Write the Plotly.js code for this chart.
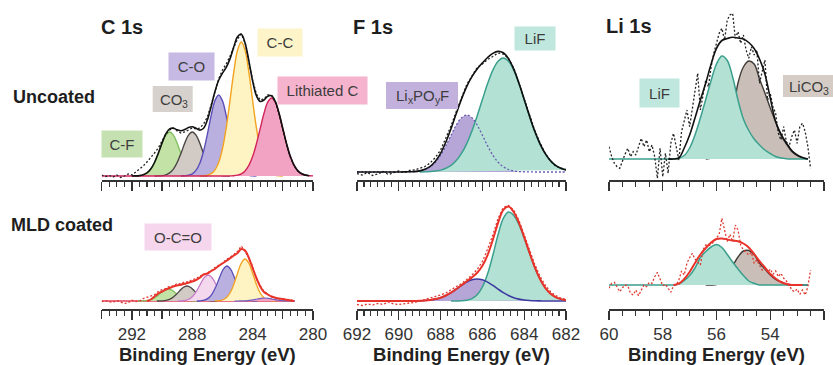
<!DOCTYPE html>
<html><head><meta charset="utf-8">
<script src="https://cdn.plot.ly/plotly-3.0.1.min.js"></script>
<style>html,body{margin:0;padding:0;background:#fff}#chart{width:833px;height:365px}</style>
</head><body><div id="chart"></div>
<script>
// ================= DATA =================
// ---- C 1s : binding energy grid (eV) ----
const c1sEnergy = [294,293.75,293.5,293.25,293,292.75,292.5,292.25,292,291.75,291.5,291.25,291,290.75,290.5,290.25,290,289.75,289.5,289.25,289,288.75,288.5,288.25,288,287.75,287.5,287.25,287,286.75,286.5,286.25,286,285.75,285.5,285.25,285,284.75,284.5,284.25,284,283.75,283.5,283.25,283,282.75,282.5,282.25,282,281.75,281.5,281.25,281,280.75,280.5,280.25,280];

// C 1s uncoated
const c1sUncRaw = [5,3.5,4.5,3,5,2.5,4,6,5,8,11,14,18,22,27,32,39,46,50,52,49,47,48,50,52,51,52,56,63,75,88,101,110,116,124,133,141,146,137,118,100,86,80,81,85,85,78,66,50,35,23,14,9,6,5];
const c1sUncEnv = [4.0,4.1,4.4,5.2,7.1,10.9,17.5,26.7,37.1,46.1,51.1,51.8,50.2,49.2,50.4,52.5,53.3,51.7,49.9,51.7,59.9,73.5,88.2,99.7,106.8,112.6,121.1,133.0,143.3,145.8,137.0,119.2,99.0,84.3,78.5,80.0,83.7,84.3,78.6,66.7,51.3,36.1,23.4,14.6,9.1,6.2,4.9,4.3];
const c1sUncCF  = [4.0,4.1,4.4,5.2,7.1,10.9,17.5,26.6,36.7,44.9,48.0,44.9,36.7,26.6,17.5,10.9,7.1,5.2,4.4,4.1,4.0];
const c1sUncCO3 = [4.0,4.1,4.4,5.2,7.1,10.9,17.5,26.6,36.7,44.9,48.0,44.9,36.7,26.6,17.5,10.9,7.1,5.2,4.4,4.1,4.0];
const c1sUncCO  = [4.0,4.2,4.7,6.2,9.6,16.7,28.8,45.6,64.3,79.2,85.0,79.2,64.3,45.6,28.8,16.7,9.6,6.2,4.7,4.2,4.0];
const c1sUncCC  = [4.0,4.2,4.8,6.3,9.9,17.5,31.2,52.2,79.4,107.9,129.7,138.0,129.7,107.9,79.4,52.2,31.2,17.5,9.9,6.3,4.8,4.2,4.0];
const c1sUncLiC = [4,4,4,4,4,4,4,4,4,4,4,4,4,4,4,4,4,4,4,4,4,4,4,4,4,4,4,4,4,4,4,4,4,4.0,4.1,4.3,4.9,6.2,9.1,14.6,23.4,36.1,51.3,66.5,77.8,82.0,77.8,66.5,51.3,36.1,23.4,14.6,9.1,6.2,4.9,4.3,4.1];

// C 1s MLD coated
const c1sMldRaw = [7.5,8.3,7.2,6.8,8.4,7.0,5.5,6.2,8.8,7.5,7.8,10.5,11.5,12.8,14.2,17.5,19.5,20.3,22.8,23.0,25.5,25.0,27.3,27.0,29.5,30.2,33.0,34.2,36.5,38.0,41.5,44.0,46.0,49.5,51.5,54.5,57.5,63.0,57.0,51.5,42.5,30.0,23.5,17.5,15.0,12.0,11.8,10.2,10.5,9.0,9.5,8.2];
const c1sMldEnv = [8,9.5,12.5,15.5,17.5,19.5,21,22.5,23.5,24.3,25.3,26.3,27.5,29,31.2,34.5,35.5,38,40,43,45.5,48,50.7,53.5,56,60,58.5,51,41,31,22.5,17,14.5,12.5,11.3,10.5,10,9.3,8.6,8];
const c1sMldBaseE = [294,281.2];
const c1sMldBase  = [8,8];
const c1sMldCF_E  = [291.6,291.35,291.1,290.85,290.6,290.35,290.1,289.85,289.6,289.35,289.1,288.85,288.6,288.35,288.1,287.85,287.6];
const c1sMldCF    = [8.0,8.1,8.3,8.9,10.3,12.7,15.9,18.8,20.0,18.8,15.9,12.7,10.3,8.9,8.3,8.1,8.0];
const c1sMldCO3_E = [290.35,290.1,289.85,289.6,289.35,289.1,288.85,288.6,288.35,288.1,287.85,287.6,287.35,287.1,286.85,286.6,286.35];
const c1sMldCO3   = [8.0,8.1,8.4,9.1,10.9,13.9,17.9,21.5,23.0,21.5,17.9,13.9,10.9,9.1,8.4,8.1,8.0];
const c1sMldOCO_E = [288.95,288.7,288.45,288.2,287.95,287.7,287.45,287.2,286.95,286.7,286.45,286.2,285.95,285.7,285.45,285.2,284.95];
const c1sMldOCO   = [8.0,8.2,8.6,10.0,13.0,18.3,25.2,31.5,34.0,31.5,25.2,18.3,13.0,10.0,8.6,8.2,8.0];
const c1sMldCO_E  = [287.7,287.45,287.2,286.95,286.7,286.45,286.2,285.95,285.7,285.45,285.2,284.95,284.7,284.45,284.2,283.95,283.7];
const c1sMldCO    = [8.0,8.2,8.9,10.6,14.7,21.8,31.2,39.6,43.0,39.6,31.2,21.8,14.7,10.6,8.9,8.2,8.0];
const c1sMldCC_E  = [286.5,286.25,286,285.75,285.5,285.25,285,284.75,284.5,284.25,284,283.75,283.5,283.25,283,282.75,282.5];
const c1sMldCC    = [8.1,8.3,9.0,11.2,16.0,24.6,35.8,45.9,50.0,45.9,35.8,24.6,16.0,11.2,9.0,8.3,8.1];
const c1sMldLiC_E = [285.2,284.95,284.7,284.45,284.2,283.95,283.7,283.45,283.2,282.95,282.7,282.45,282.2,281.95,281.7,281.45,281.2];
const c1sMldLiC   = [8.0,8.0,8.1,8.2,8.6,9.2,10.0,10.7,11.0,10.7,10.0,9.2,8.6,8.2,8.1,8.0,8.0];

// ---- F 1s ----
const f1sEnergy = [692,691.75,691.5,691.25,691,690.75,690.5,690.25,690,689.75,689.5,689.25,689,688.75,688.5,688.25,688,687.75,687.5,687.25,687,686.75,686.5,686.25,686,685.75,685.5,685.25,685,684.75,684.5,684.25,684,683.75,683.5,683.25,683,682.75,682.5,682.25,682];
const f1sUncRaw   = [6.5,5.0,7.5,4.5,6.0,8.5,5.5,7.0,9.0,7.5,9.5,10.0,12.0,13.5,17.0,22.5,30.0,41.5,54.0,68.5,83.0,95.5,104.0,112.5,116.0,120.5,123.5,127.0,126.0,121.5,112.0,97.5,81.0,65.5,50.0,37.5,27.0,19.0,14.0,12.0,10.5];
const f1sUncEnv   = [8,8,8,8,8,8,8,8,8,8.1,8.2,8.4,9.1,10.7,13.6,18.7,26.7,37.8,51.4,66.4,80.9,93.4,103.3,111.0,117.1,122.5,126.6,128.6,127.2,121.3,110.9,96.8,80.6,64.2,49.0,36.4,26.6,19.5,14.7,11.7,9.9];
const f1sUncLixPOyF = [8,8,8,8,8,8,8,8,8,8.1,8.2,8.4,9.1,10.5,13.2,17.8,24.8,34.1,44.7,54.9,62.3,65.0,62.3,54.9,44.7,34.1,24.8,17.8,13.2,10.5,9.1,8.4,8.2,8.1,8,8,8,8,8,8,8];
const f1sUncLiF   = [8.0,8.2,8.4,8.9,9.9,11.7,14.7,19.5,26.6,36.4,49.0,64.1,80.4,96.4,109.8,118.8,122.0,118.8,109.8,96.4,80.4,64.1,49.0,36.4,26.6,19.5,14.7,11.7,9.9];
const f1sMldRaw   = [4.5,3.5,5.0,4.0,5.5,4.5,7.0,5.0,4.5,5.5,6.0,6.5,8.0,9.5,10.5,12.5,14.0,16.0,19.0,22.5,25.5,29.5,34.0,39.5,47.5,60.0,74.0,90.5,101.5,103.5,99.0,88.5,74.0,59.5,45.0,33.0,24.0,17.5,13.5,11.0,9.5];
const f1sMldEnv   = [8,8,8,8,8,8,8,8,8,8,8,8.1,8.2,8.5,9.0,9.9,11.3,13.5,16.4,20.0,23.8,27.7,31.6,36.2,43.2,54.1,69.3,86.1,99.1,102.5,96.9,86.2,71.9,56.6,42.1,30.3,21.4,15.5,11.9,9.9,8.8];
const f1sMldLixPOyF = [8,8,8,8,8,8,8,8,8,8,8,8.1,8.2,8.5,9.0,9.9,11.3,13.5,16.4,19.9,23.6,26.9,29.2,30.0,29.2,26.9,23.6,19.9,16.4,13.5,11.3,9.9,9.0,8.5,8.2,8.1,8,8,8,8,8];
const f1sMldLiF   = [8.0,8.1,8.2,8.8,10.4,14.2,22.0,35.2,53.7,74.2,90.7,97.0,93.6,84.3,70.9,56.1,41.9,30.2,21.4,15.5,11.9,9.9,8.8];

// ---- Li 1s ----
const liEnergy = [60,59.8,59.6,59.4,59.2,59,58.8,58.6,58.4,58.2,58,57.8,57.6,57.4,57.2,57,56.8,56.6,56.4,56.2,56,55.8,55.6,55.4,55.2,55,54.8,54.6,54.4,54.2,54,53.8,53.6,53.4,53.2,53,52.8,52.6];
const liEnergyFine = [60,59.9,59.8,59.7,59.6,59.5,59.4,59.3,59.2,59.1,59,58.9,58.8,58.7,58.6,58.5,58.4,58.3,58.2,58.1,58,57.9,57.8,57.7,57.6,57.5,57.4,57.3,57.2,57.1,57,56.9,56.8,56.7,56.6,56.5,56.4,56.3,56.2,56.1,56,55.9,55.8,55.7,55.6,55.5,55.4,55.3,55.2,55.1,55,54.9,54.8,54.7,54.6,54.5,54.4,54.3,54.2,54.1,54,53.9,53.8,53.7,53.6,53.5,53.4,53.3,53.2,53.1,53,52.9,52.8,52.7,52.6,52.5];
const liUncRaw = [33.3,23.3,16.7,13.3,11.7,20,26,31.7,23.3,28.3,25,33.3,41.7,33.3,40,28.3,35,23.3,1.7,31.7,3.3,26.7,6.7,36.7,46.7,33.3,20,48.3,60,70,53.3,70,86.7,106.7,70,83.3,100,93.3,113.3,126.7,136.7,146.7,151.7,140,160,165,166.7,141.7,148.3,136.7,145,130,121.7,133.3,125,130,96.7,108.3,120,80,86.7,73.3,66.7,46.7,40,53.3,38.3,33.3,43.3,50,36.7,53.3,56.7,48.3,33.3,11.7];
const liUncEnv = [21,21,22,32,45,62,80,97,116,131.7,139.5,141.5,142.7,142,141,137.5,131.5,121,106,82,58.5,46,37,29.5,25,22.5,21];
const liUncLiF = [21,21,21,21,21,21,21,21,21,21,21,21,21.2,21.8,24.5,32,45,62,80.5,99.5,116,124,119.5,103,80,61,49.5,41,35,30,26.5,23.5,22,21.3,21,21,21,21];
const liUncLiCO3 = [21,22,25,32,45,66,97,113,119,116,101,87,72,58,44.5,36,28.5,24.5,22,21];
const liMldRaw = [20.7,25.7,26.7,22.3,17.3,21.3,24,23.3,15.7,14,19,13.3,18,24,22.3,26.7,25.7,32.3,36.7,29,23.3,24.7,20.7,16.7,23.3,24,29,38,34,45.7,51.3,55.7,50,47.3,44,59,64,63.3,64.7,67.3,70.7,74.7,90.7,77.3,67.3,74.7,67.3,84,79,64,59,56.7,54,56.7,45.7,49,43.3,39,41.3,36.7,40,34.7,38,32.3,35.7,30.7,28,24.7,19,17.3,20,14.7,19,14,22.3,39];
const liMldEnv = [24,25.3,30,37,46,54.5,61,66.5,70,70.5,69.5,68.5,67.7,65.5,61.5,55,48,41.5,35,30.5,27,25,24,24,24];
const liMldLiF = [24,24,24,24,24,24,24,24,24,24,24,24,24,25,28.5,33.5,41,51.5,57.5,62,64.5,61.5,54.5,47,40,33.5,28,25.7,24.1,24,24,24,24,24,24,24,24,24];
const liMldLiCO3 = [24,24,24.5,27,33,43,52,58,58.5,54.5,46,40,34,29.5,27,24.7,24,24,24,24];

// Tick labels / text
const panelTitles = ['C 1s','F 1s','Li 1s'];
const rowLabels = ['Uncoated','MLD coated'];
const xTitle = 'Binding Energy (eV)';

// ================= DRAWING =================
const FONT = 'Liberation Sans, Arial, Helvetica, sans-serif';
const W = 833, H = 365;
const fx = p => p / W, fy = p => 1 - p / H;
const traces = [];
const AX = [null, ['x','y'], ['x2','y2'], ['x3','y3'], ['x4','y4'], ['x5','y5'], ['x6','y6']];

function area(a, x, y, fill, line, lw, dash) {
  traces.push({type:'scatter', mode:'lines', x:x, y:y, xaxis:AX[a][0], yaxis:AX[a][1],
    fill:'toself', fillcolor:fill,
    line:{color:line, width:lw, shape:'spline', smoothing:1, dash:dash || 'solid'},
    hoverinfo:'skip', showlegend:false});
}
function curve(a, x, y, color, lw, dash, shape) {
  traces.push({type:'scatter', mode:'lines', x:x, y:y, xaxis:AX[a][0], yaxis:AX[a][1],
    line:{color:color, width:lw, dash:dash || 'solid', shape:shape || 'spline', smoothing:1},
    hoverinfo:'skip', showlegend:false});
}

const COL = {
  cf:['#c3e2a6','#82c061'], co3:['#d2cbc5','#4a4545'], co:['#b9b0e0','#5a4fb8'],
  cc:['#fef3c2','#f2a322'], lic:['#f2a3c3','#d3245a'], oco:['#f4d8ee','#c37ac7'],
  lif:['#b3e2d5','#3b9f8d'], lipo:['#b6a6d8','#6a5cae'], lico3:['#c9bfb8','#403a36']
};
const DOT = '2px,2px';

// Panel 1: C 1s uncoated
area(1, c1sEnergy.slice(8,29),  c1sUncCF,  COL.cf[0],  COL.cf[1], 1.4);
area(1, c1sEnergy.slice(14,35), c1sUncCO3, COL.co3[0], COL.co3[1], 1.4);
area(1, c1sEnergy.slice(21,42), c1sUncCO,  COL.co[0],  COL.co[1], 1.4);
area(1, c1sEnergy.slice(26,49), c1sUncCC,  COL.cc[0],  COL.cc[1], 1.4);
area(1, c1sEnergy,              c1sUncLiC, COL.lic[0], COL.lic[1], 1.4);
curve(1, c1sEnergy.slice(0,55), c1sUncRaw, '#222', 1.3, DOT, 'linear');
curve(1, c1sEnergy.slice(8,56), c1sUncEnv, '#111', 1.6);

// Panel 2: F 1s uncoated
area(2, f1sEnergy, f1sUncLixPOyF, COL.lipo[0], COL.lipo[0], 0);
area(2, f1sEnergy.slice(12), f1sUncLiF, COL.lif[0], COL.lif[1], 1.5);
curve(2, f1sEnergy, f1sUncLixPOyF, COL.lipo[1], 1.3, DOT);
curve(2, f1sEnergy, f1sUncRaw, '#222', 1.3, DOT, 'linear');
curve(2, f1sEnergy, f1sUncEnv, '#111', 1.6);

// Panel 3: Li 1s uncoated
area(3, liEnergy.slice(18), liUncLiCO3, COL.lico3[0], COL.lico3[1], 1.4);
area(3, liEnergy, liUncLiF, COL.lif[0], COL.lif[1], 1.5);
curve(3, liEnergyFine, liUncRaw, '#222', 1.3, DOT, 'linear');
curve(3, liEnergy.slice(11), liUncEnv, '#111', 1.6);

// Panel 4: C 1s MLD coated
curve(4, c1sMldBaseE, c1sMldBase, '#e0405a', 1.6, 'solid', 'linear');
area(4, c1sMldCF_E,  c1sMldCF,  COL.cf[0],  COL.cf[1], 1.3);
area(4, c1sMldCO3_E, c1sMldCO3, COL.co3[0], COL.co3[1], 1.3);
area(4, c1sMldOCO_E, c1sMldOCO, COL.oco[0], COL.oco[1], 1.3);
area(4, c1sMldCO_E,  c1sMldCO,  COL.co[0],  COL.co[1], 1.3);
area(4, c1sMldCC_E,  c1sMldCC,  COL.cc[0],  COL.cc[1], 1.3);
area(4, c1sMldLiC_E, c1sMldLiC, COL.lic[0], '#7060c0', 1.2);
curve(4, c1sEnergy.slice(0,52), c1sMldRaw, '#e0392f', 1.3, DOT, 'linear');
curve(4, c1sEnergy.slice(12,52), c1sMldEnv, '#e8332a', 2);

// Panel 5: F 1s MLD coated
area(5, f1sEnergy, f1sMldLixPOyF, COL.lipo[0], COL.lipo[0], 0);
area(5, f1sEnergy.slice(18), f1sMldLiF, COL.lif[0], COL.lif[1], 1.5);
curve(5, f1sEnergy, f1sMldLixPOyF, '#3c3aa0', 1.6);
curve(5, f1sEnergy, f1sMldRaw, '#e0392f', 1.3, DOT, 'linear');
curve(5, f1sEnergy, f1sMldEnv, '#e8332a', 2);

// Panel 6: Li 1s MLD coated
area(6, liEnergy.slice(18), liMldLiCO3, COL.lico3[0], COL.lico3[1], 1.4);
area(6, liEnergy, liMldLiF, COL.lif[0], COL.lif[1], 1.5);
curve(6, liEnergyFine, liMldRaw, '#e0392f', 1.3, DOT, 'linear');
curve(6, liEnergy.slice(12,37), liMldEnv, '#e8332a', 2);

// overlay axis carrying the unlabelled 2-eV ticks of the bottom C 1s panel
traces.push({type:'scatter', mode:'lines', x:[], y:[], xaxis:'x7', yaxis:'y4', hoverinfo:'skip', showlegend:false});

// ---- axes ----
const colDom = [[fx(101.7), fx(313)], [fx(357), fx(566)], [fx(609), fx(824)]];
const colRange = [[294,280],[692,682],[60,52]];
const colTick0 = [280, 682, 52];
const colMinor = [0.5, 1/3, 0.5];
const rowDom = [[fy(180), fy(10)], [fy(309), fy(199)]];
const rowRange = [[0,170],[0,110]];

const layout = {
  width: W, height: H, margin:{l:0, r:0, t:0, b:0},
  paper_bgcolor:'#ffffff', plot_bgcolor:'rgba(0,0,0,0)', showlegend:false,
  font:{family:FONT, color:'#333'}, annotations:[], shapes:[]
};
for (let r = 0; r < 2; r++) {
  for (let c = 0; c < 3; c++) {
    const n = r * 3 + c + 1;
    const xk = n === 1 ? 'xaxis' : 'xaxis' + n;
    const yk = n === 1 ? 'yaxis' : 'yaxis' + n;
    const labelled = r === 1;
    const xa = {
      domain: colDom[c], range: colRange[c], anchor: AX[n][1],
      showline:true, linecolor:'#333', linewidth:1.5,
      ticks:'outside', ticklen:9, tickwidth:1.3, tickcolor:'#333',
      tickmode:'linear', tick0: colTick0[c], dtick: (labelled && c === 0) ? 4 : 2,
      showticklabels: labelled,
      tickfont:{family:FONT, size:17, color:'#333'},
      minor:{ticks:'outside', ticklen:5, tickwidth:1.1, tickcolor:'#333', tickmode:'linear', tick0: colTick0[c], dtick: colMinor[c], showgrid:false},
      showgrid:false, zeroline:false, fixedrange:true, automargin:false
    };
    if (labelled) xa.title = {text: xTitle, font:{family:FONT, size:18.5, color:'#222', weight:'bold'}, standoff:4};
    layout[xk] = xa;
    layout[yk] = {domain: rowDom[r], range: rowRange[r], anchor: AX[n][0], visible:false, fixedrange:true};
  }
}
layout.xaxis7 = {overlaying:'x4', anchor:'y4', range: colRange[0], showline:false,
  ticks:'outside', ticklen:9, tickwidth:1.3, tickcolor:'#333', tickmode:'linear', tick0:282, dtick:4,
  showticklabels:false, showgrid:false, zeroline:false, fixedrange:true, automargin:false};

// ---- text ----
const BOXFONT = {family:FONT, size:15, color:'#3d3d3d'};
const SUBFONT = {family:FONT, size:10.5, color:'#3d3d3d'};
function label(txt, cx, cy, size) {
  layout.annotations.push({xref:'paper', yref:'paper', x:fx(cx), y:fy(cy), xanchor:'center', yanchor:'middle',
    showarrow:false, text: txt, font:{family:FONT, size:size, color:'#1e1e1e', weight:'bold'}});
}
function box(txt, cx, cy, w, h, bg) {
  layout.annotations.push({xref:'paper', yref:'paper', x:fx(cx), y:fy(cy), xanchor:'center', yanchor:'middle',
    showarrow:false, text:txt, width:w, height:h, bgcolor:bg, borderpad:0, align:'center', valign:'middle',
    font:BOXFONT});
}
// box whose label holds subscripts: background rectangle + text pieces laid side by side
function subBox(pieces, cx, cy, w, h, bg) {
  layout.shapes.push({type:'rect', xref:'paper', yref:'paper', x0:fx(cx - w/2), x1:fx(cx + w/2),
    y0:fy(cy + h/2), y1:fy(cy - h/2), fillcolor:bg, line:{width:0}, layer:'above'});
  const widths = pieces.map(p => p[1] ? 0.556 * 10.5 * p[0].length : 0);
  // approximate advance widths (Arial metrics)
  const adv = {L:0.556,i:0.222,C:0.722,O:0.778,P:0.667,F:0.611,x:0.5,y:0.5,'3':0.556};
  const pw = pieces.map(p => p[0].split('').reduce((s, ch) => s + (adv[ch] || 0.6), 0) * (p[1] ? 10.5 : 15));
  let x = cx - pw.reduce((s, v) => s + v, 0) / 2;
  pieces.forEach((p, k) => {
    layout.annotations.push({xref:'paper', yref:'paper', x:fx(x), y:fy(p[1] ? cy + 4.5 : cy), xanchor:'left', yanchor:'middle',
      showarrow:false, text:p[0], borderpad:0, font: p[1] ? SUBFONT : BOXFONT});
    x += pw[k];
  });
}
label(panelTitles[0], 121.5, 27, 20);
label(panelTitles[1], 373, 27, 20);
label(panelTitles[2], 629, 26, 20);
label(rowLabels[0], 54, 97, 18);
label(rowLabels[1], 62.5, 225, 18);

box('C-F', 122, 144, 40, 26, '#c5e1b1');
subBox([['CO',0],['3',1]], 172.7, 99, 40, 26, '#d6d1cc');
box('C-O', 191.5, 66.5, 45, 27, '#c6b9e4');
box('C-C', 280, 42.5, 44, 27, '#fdf4c9');
box('Lithiated C', 322.5, 90.5, 89, 27, '#f5b3cd');
subBox([['Li',0],['x',1],['PO',0],['y',1],['F',0]], 422, 95.5, 72, 27, '#c2b1dd');
box('LiF', 535, 38, 40, 23, '#c0e7dd');
box('LiF', 659.5, 93, 39, 28, '#c0e7dd');
subBox([['LiCO',0],['3',1]], 808, 86, 50, 22, '#d5ccc6');
box('O-C=O', 178, 237, 66, 26, '#f5d6ec');

Plotly.newPlot('chart', traces, layout, {staticPlot:true, displayModeBar:false});
</script></body></html>
